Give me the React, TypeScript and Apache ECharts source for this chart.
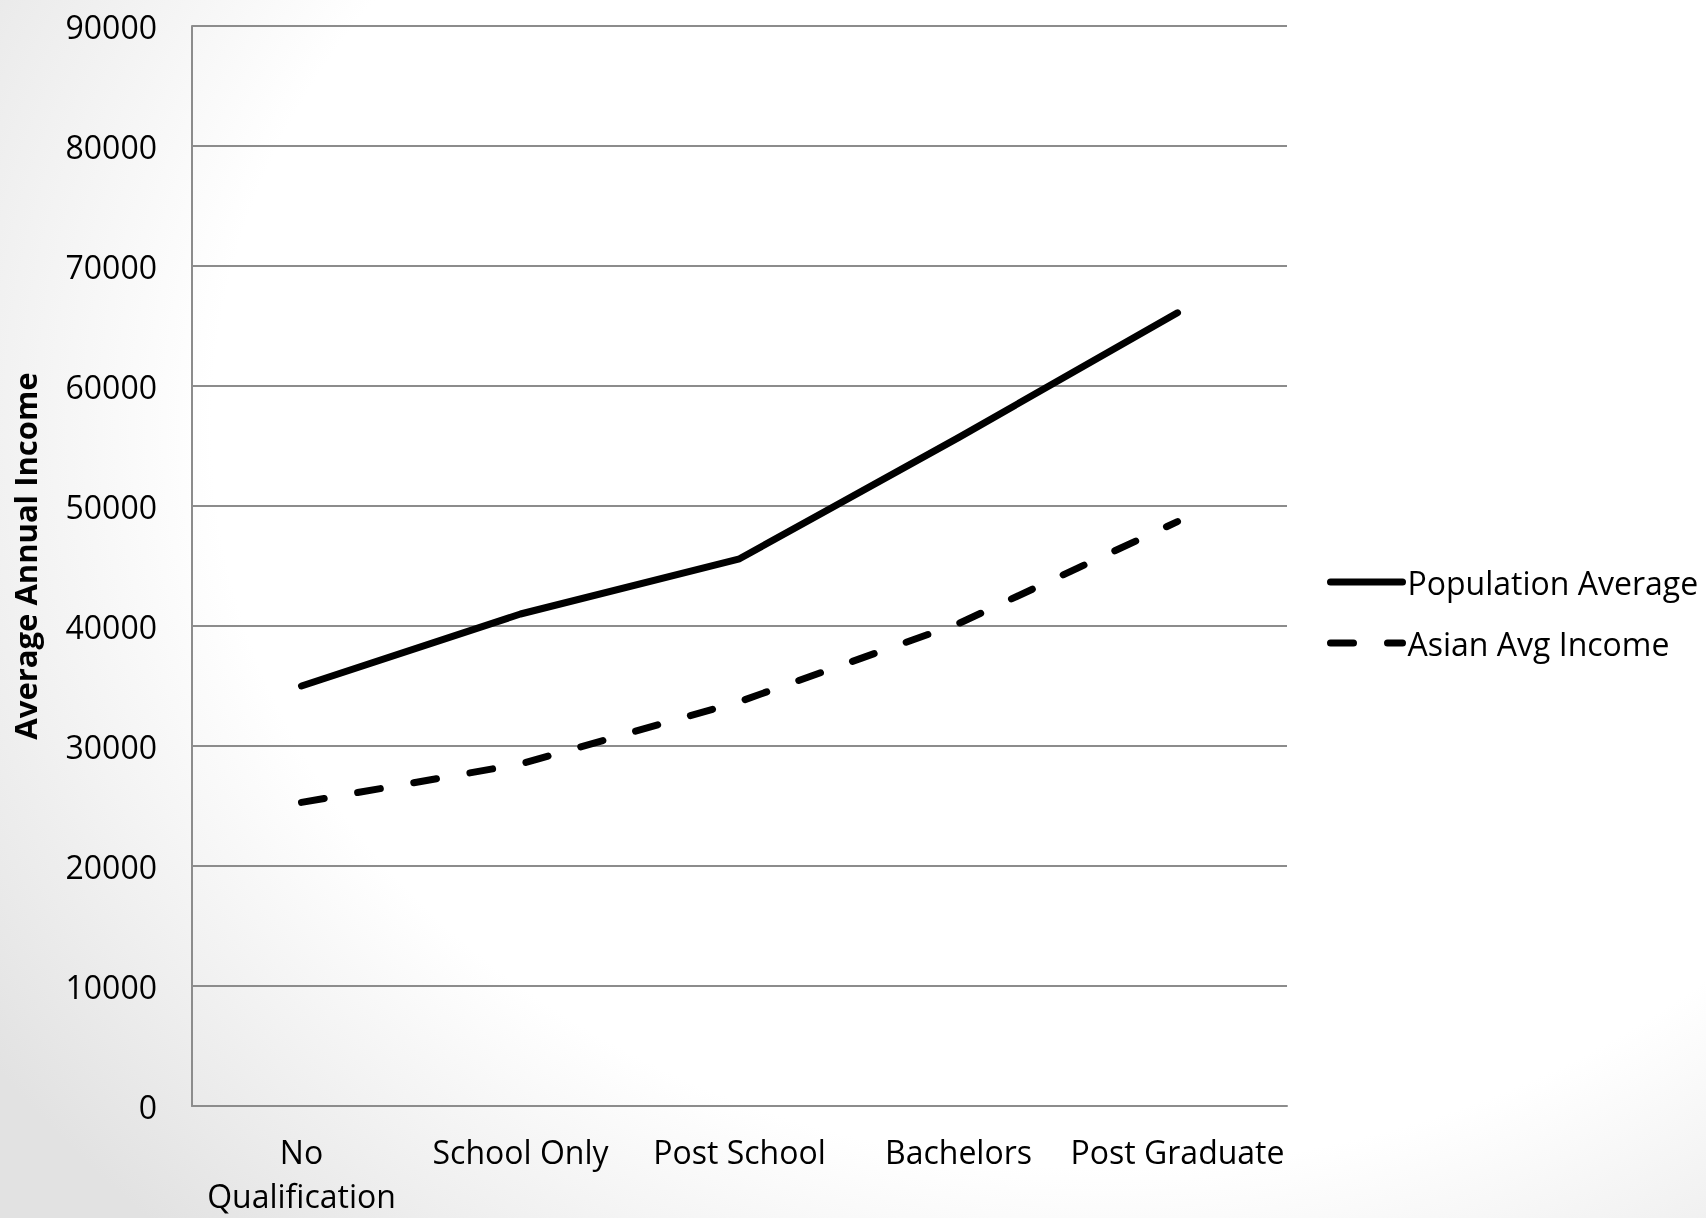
import React, { useEffect, useRef } from "react";
import * as echarts from "echarts";

const categories = ["No Qualification", "School Only", "Post School", "Bachelors", "Post Graduate"];
const populationAverage = [35000, 41000, 45600, 55700, 66100];
const asianAvgIncome = [25300, 28500, 33700, 40200, 48700];
const seriesNames = ["Population Average", "Asian Avg Income"];
const yMin = 0;
const yMax = 90000;
const yInterval = 10000;
const yAxisTitle = "Average Annual Income";

const FONT = "'Open Sans', 'Noto Sans', sans-serif";

export default function App() {
  const ref = useRef<HTMLDivElement>(null);
  useEffect(() => {
    if (!ref.current) return;
    const chart = echarts.init(ref.current, undefined, { renderer: "svg" });
    const gridColor = "#8c8c8c";
    chart.setOption({
      animation: false,
      backgroundColor: "transparent",
      grid: {
        left: 192,
        top: 26,
        width: 1095,
        height: 1080,
        containLabel: false,
        outerBoundsMode: "none",
      },
      legend: {
        orient: "vertical",
        left: 1322,
        top: 557,
        itemWidth: 72,
        itemHeight: 14,
        itemGap: 21,
        data: seriesNames,
        textStyle: { fontFamily: FONT, fontSize: 32, color: "#000", lineHeight: 40, padding: 0 },
        lineStyle: { width: 7 },
        itemStyle: { opacity: 0 },
      },
      xAxis: {
        type: "category",
        data: categories,
        boundaryGap: true,
        axisLine: { show: true, lineStyle: { color: gridColor, width: 2 } },
        axisTick: { show: false },
        axisLabel: {
          color: "#000",
          fontFamily: FONT,
          fontSize: 32,
          lineHeight: 44,
          margin: 23,
          interval: 0,
          formatter: (v: string) => v.replace(/^No /, "No\n"),
        },
        splitLine: { show: false },
      },
      yAxis: {
        type: "value",
        min: yMin,
        max: yMax,
        interval: yInterval,
        axisLine: { show: true, lineStyle: { color: gridColor, width: 2 } },
        axisTick: { show: false },
        axisLabel: {
          color: "#000",
          fontFamily: FONT,
          fontSize: 32,
          margin: 35,
          formatter: (v: number) => String(v),
        },
        splitLine: { show: true, lineStyle: { color: gridColor, width: 2 } },
      },
      graphic: [
        {
          type: "text",
          x: 25,
          y: 556,
          rotation: Math.PI / 2,
          style: {
            text: yAxisTitle,
            font: `bold 31px ${FONT}`,
            fill: "#000",
            textAlign: "center",
            textVerticalAlign: "middle",
          },
        },
      ],
      series: [
        {
          name: seriesNames[0],
          type: "line",
          data: populationAverage,
          symbol: "none",
          showSymbol: false,
          lineStyle: { color: "#000", width: 7, type: "solid", cap: "round", join: "round" },
          itemStyle: { color: "#000" },
        },
        {
          name: seriesNames[1],
          type: "line",
          data: asianAvgIncome,
          symbol: "none",
          showSymbol: false,
          lineStyle: { color: "#000", width: 7, type: [23, 34], cap: "round", join: "round" },
          itemStyle: { color: "#000" },
        },
      ],
    });
    return () => chart.dispose();
  }, []);
  return (
    <div
      style={{
        position: "fixed",
        left: 0,
        top: 0,
        width: 1706,
        height: 1218,
        background:
          "radial-gradient(1150px 950px at 65% 35%, #ffffff 0%, #ffffff 78%, #e2e2e2 118%)",
      }}
    >
      <div ref={ref} style={{ width: 1706, height: 1218 }} />
    </div>
  );
}
